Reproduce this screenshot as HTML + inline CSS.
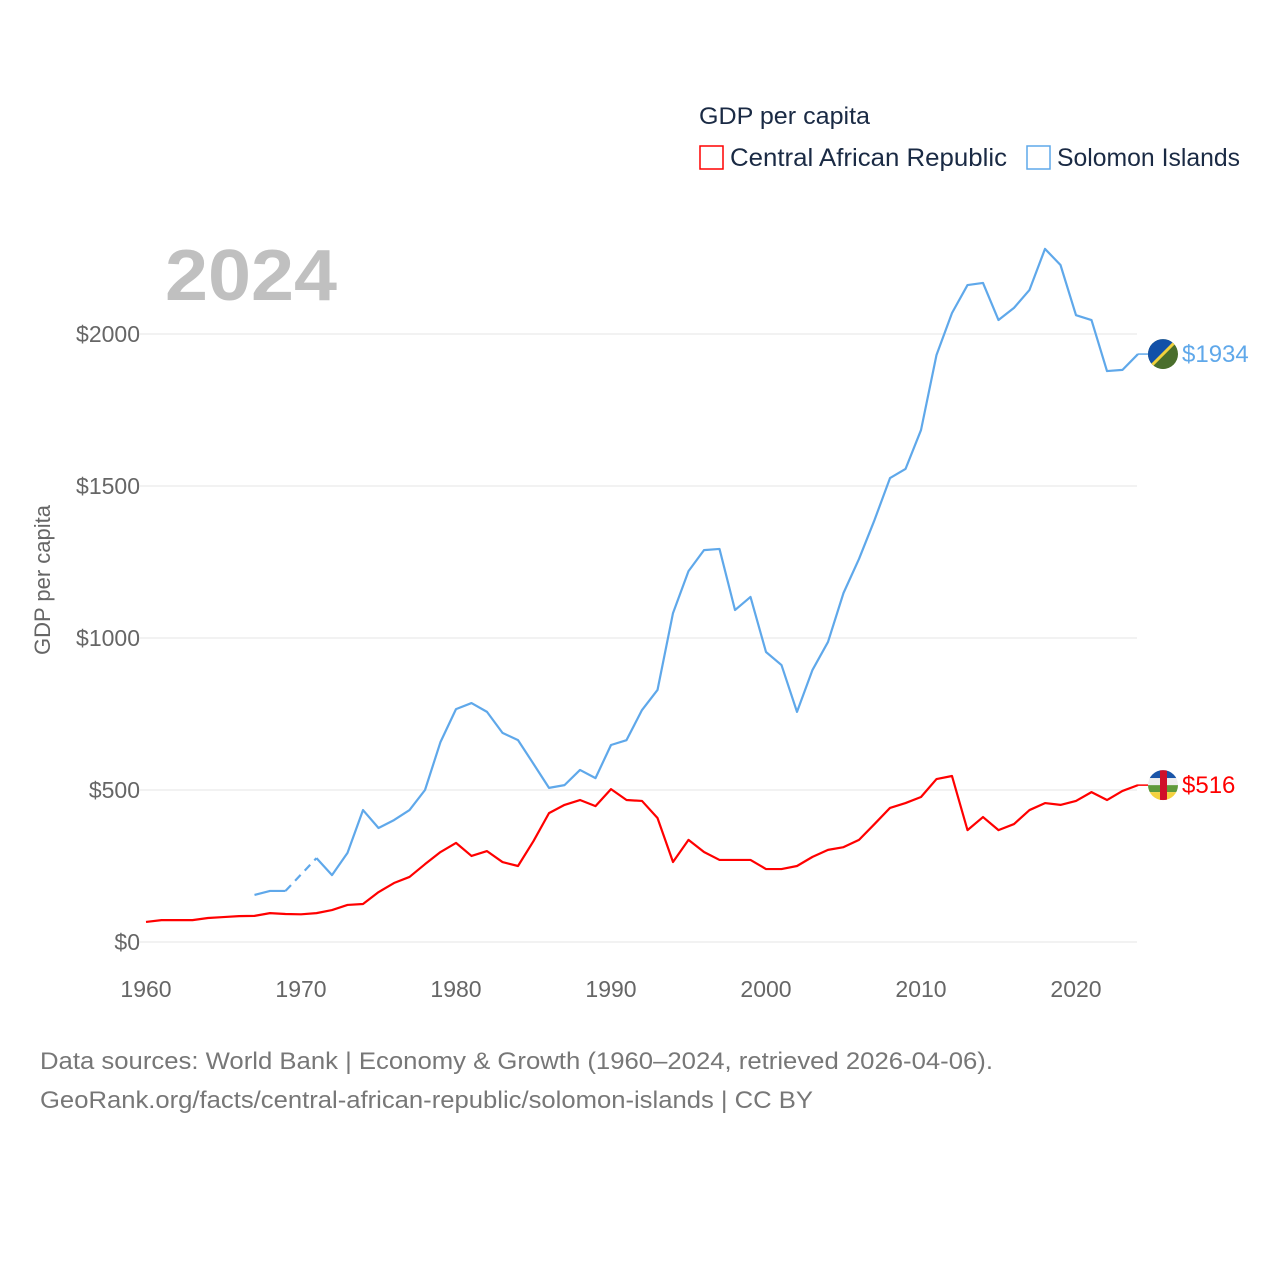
<!DOCTYPE html>
<html><head><meta charset="utf-8"><style>
body{margin:0;background:#fff;font-family:"Liberation Sans",sans-serif}
svg text{font-family:"Liberation Sans",sans-serif}
</style></head><body>
<svg id="chart" width="1280" height="1280" xmlns="http://www.w3.org/2000/svg">
<text x="699" y="124" font-size="24" fill="#1a2a44" textLength="171" lengthAdjust="spacingAndGlyphs">GDP per capita</text>
<g><rect x="700" y="146" width="23" height="23" fill="none" stroke="#f00" stroke-width="1.5"/><text x="730" y="166" font-size="25" fill="#1a2a44" textLength="277" lengthAdjust="spacingAndGlyphs">Central African Republic</text></g>
<g><rect x="1027" y="146" width="23" height="23" fill="none" stroke="#5fa8ea" stroke-width="1.5"/><text x="1057" y="166" font-size="25" fill="#1a2a44" textLength="183" lengthAdjust="spacingAndGlyphs">Solomon Islands</text></g>
<text x="165" y="300" font-size="72" font-weight="bold" fill="#c0c0c0" textLength="172" lengthAdjust="spacingAndGlyphs">2024</text>
<text transform="translate(50,580) rotate(-90)" text-anchor="middle" font-size="22" fill="#666">GDP per capita</text>
<g id="grid"></g><g id="lines"></g><g id="ends"></g>
<text x="40" y="1069" font-size="24" fill="#777" textLength="953" lengthAdjust="spacingAndGlyphs">Data sources: World Bank | Economy &amp; Growth (1960–2024, retrieved 2026-04-06).</text>
<text x="40" y="1108" font-size="24" fill="#777" textLength="773" lengthAdjust="spacingAndGlyphs">GeoRank.org/facts/central-african-republic/solomon-islands | CC BY</text>
</svg>
<script>
const years=[];for(let y=1960;y<=2024;y++)years.push(y);
const yTicks=[0,500,1000,1500,2000];
const xTicks=[1960,1970,1980,1990,2000,2010,2020];
const carValues=[66,72,72,72,79,82,85,86,95,92,91,95,105,122,125,164,194,214,256,296,326,283,299,263,250,332,424,451,467,447,503,467,464,408,263,336,296,270,270,270,240,240,250,280,303,312,336,388,441,457,477,536,546,368,411,368,388,434,457,451,464,493,467,497,516];
const solValues=[null,null,null,null,null,null,null,155,168,168,null,276,220,293,434,375,401,434,500,658,766,786,757,688,664,586,507,516,566,539,648,664,763,829,1082,1220,1289,1293,1092,1135,954,911,757,895,987,1148,1260,1388,1526,1556,1684,1931,2069,2161,2168,2046,2086,2145,2280,2227,2062,2046,1878,1882,1934];
const X=y=>146+(y-1960)*15.5, Y=v=>942-v*0.304;
const NS="http://www.w3.org/2000/svg";
function mk(t,a,p){const e=document.createElementNS(NS,t);for(const k in a)e.setAttribute(k,a[k]);p.appendChild(e);return e;}
const grid=document.getElementById('grid');
yTicks.forEach(v=>{
 const l=mk('line',{x1:140,x2:1137,y1:Y(v),y2:Y(v),stroke:'#e6e6e6'},grid);
 
 
 const t=mk('text',{x:140,y:Y(v)+8,'text-anchor':'end','font-size':23,fill:'#666'},grid);t.textContent='$'+v;
 
 
});
xTicks.forEach(v=>{
 const t=mk('text',{x:X(v),y:997,'text-anchor':'middle','font-size':23,fill:'#666'},grid);t.textContent=v;
 
 
});
const lines=document.getElementById('lines');
function series(vals,color,name){
 let segs=[],cur=[],gaps=[],last=null;
 vals.forEach((v,i)=>{
  if(v==null){if(cur.length){segs.push(cur);cur=[];}}
  else{const p=[X(years[i]),Y(v)];if(!cur.length&&last&&last.i<i-1)gaps.push([last.p,p]);cur.push(p);last={i,p};}
 });
 if(cur.length)segs.push(cur);
 segs.forEach(s=>{const e=mk('polyline',{points:s.map(p=>p.join(',')).join(' '),fill:'none',stroke:color,'stroke-width':2.2,'stroke-linejoin':'round'},lines);
  
  });
 gaps.forEach(g=>{const e=mk('line',{x1:g[0][0],y1:g[0][1],x2:g[1][0],y2:g[1][1],stroke:color,'stroke-width':2.2,'stroke-dasharray':'8,6'},lines);
  
  });
}
series(carValues,'#f00','car');
series(solValues,'#5fa8ea','solomon');
const ends=document.getElementById('ends');
ends.innerHTML=`<defs><clipPath id="c1"><circle cx="0" cy="0" r="15"/></clipPath></defs>`;
function flag(v,kind,color){
 const cy=Y(v),cx=1163;
 const g=mk('g',{transform:`translate(${cx},${cy})`},ends);
 
 
 const c=mk('g',{'clip-path':'url(#c1)'},g);
 if(kind==='solomon'){
  mk('rect',{x:-15,y:-15,width:30,height:30,fill:'#4a6e2c'},c);
  mk('polygon',{points:'-15,-15 15,-15 -15,15',fill:'#1250a8'},c);
  mk('line',{x1:15,y1:-15,x2:-15,y2:15,stroke:'#f2d23c','stroke-width':3},c);
 }else{
  mk('rect',{x:-15,y:-15,width:30,height:8,fill:'#1a55a8'},c);
  mk('rect',{x:-15,y:-7,width:30,height:7,fill:'#eee'},c);
  mk('rect',{x:-15,y:0,width:30,height:7,fill:'#5f9a3a'},c);
  mk('rect',{x:-15,y:7,width:30,height:8,fill:'#f5d23e'},c);
  mk('rect',{x:-3,y:-15,width:7,height:30,fill:'#d0102a'},c);
 }
 mk('line',{x1:1138,y1:cy,x2:1148,y2:cy,stroke:color,'stroke-width':1.5},ends);
 const t=mk('text',{x:1182,y:cy+8,'font-size':24,fill:color},ends);t.textContent='$'+v;
 
 
}
flag(solValues[solValues.length-1],'solomon','#5fa8ea');
flag(carValues[carValues.length-1],'car','#f00');
</script>
</body></html>
